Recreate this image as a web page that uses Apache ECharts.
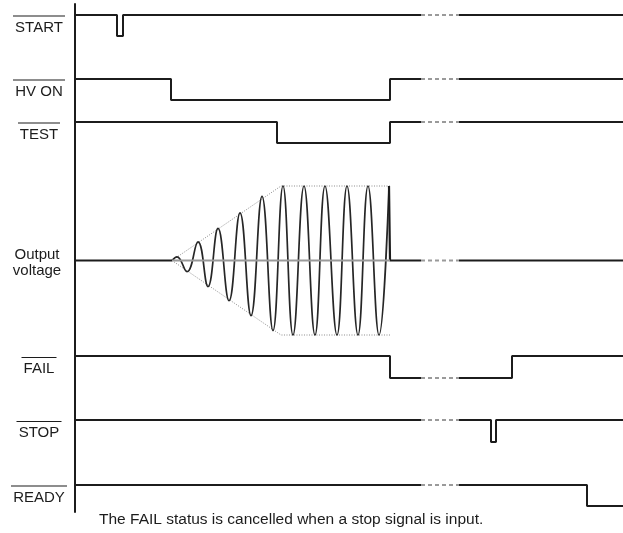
<!DOCTYPE html>
<html><head><meta charset="utf-8">
<script src="https://cdn.jsdelivr.net/npm/echarts@6/dist/echarts.min.js"></script>
<style>html,body{margin:0;padding:0;background:#fff}#c{width:623px;height:533px}</style>
</head><body><div id="c"></div>
<script>
// ---- data ----
const signalNames = ['START', 'HV ON', 'TEST', 'Output\nvoltage', 'FAIL', 'STOP', 'READY'];
const overlined = [true, true, true, false, true, true, true];
const timeEnd = 548;
const breakStart = 346, breakEnd = 384;
// times (same time units as the x axis) at which each active-low signal toggles; all begin high
const startEdges = [42, 48];
const hvOnEdges = [96, 315];
const testEdges = [202, 315];
const failEdges = [315, 437];
const stopEdges = [416, 421];
const readyEdges = [512];
// output voltage: start point and successive peaks/troughs of the test waveform (relative amplitude)
const waveTime  = [97, 102, 112, 123, 133, 143, 154, 165, 176, 187, 198, 208, 218, 229, 240, 250, 262, 272, 283, 293, 304, 314];
const waveValue = [0, 0.05, -0.15, 0.25, -0.35, 0.43, -0.54, 0.64, -0.74, 0.86, -0.94, 1, -1, 1, -1, 1, -1, 1, -1, 1, -1, 1];
const waveStart = 97, waveEnd = 315;
const envelopeTime = [97, 206, 315];
const envelopeValue = [0, 1, 1];
const caption = 'The FAIL status is cancelled when a stop signal is input.';

// ---- layout / style ----
const FONT = '"Liberation Sans", Arial, Helvetica, sans-serif';
const INK = '#1c1c1c';
const GREY = '#9a9a9a';
const rows = [
  {top: 15, height: 21}, {top: 79, height: 21}, {top: 122, height: 21},
  {top: 186, height: 149}, {top: 356, height: 22}, {top: 420, height: 22}, {top: 485, height: 21}
];
const edgesList = [startEdges, hvOnEdges, testEdges, null, failEdges, stopEdges, readyEdges];

function steps(edges) {
  const pts = [[0, 1]];
  let v = 1;
  edges.forEach(e => { pts.push([e, v]); v = 1 - v; pts.push([e, v]); });
  pts.push([timeEnd, v]);
  return pts;
}
function levelAt(pts, t) {
  let v = pts[0][1];
  pts.forEach(p => { if (p[0] <= t) v = p[1]; });
  return v;
}
function splitBreak(pts) {
  const a = levelAt(pts, breakStart), b = levelAt(pts, breakEnd);
  const before = pts.filter(p => p[0] <= breakStart); before.push([breakStart, a]);
  const after = [[breakEnd, b]].concat(pts.filter(p => p[0] >= breakEnd));
  return [before, [[breakStart, a], [breakEnd, b]], after];
}

const measure = document.createElement('canvas').getContext('2d');
measure.font = '15px ' + FONT;

const grids = [{left: 75, top: 4, width: 548, height: 508}];
const xAxes = [{gridIndex: 0, type: 'value', min: 0, max: 1, show: false}];
const yAxes = [{gridIndex: 0, type: 'value', min: 0, max: 1,
  axisLine: {show: true, lineStyle: {color: INK, width: 2}},
  axisTick: {show: false}, axisLabel: {show: false}, splitLine: {show: false}}];
const series = [];

function lineSeries(gi, data, style, extra) {
  return Object.assign({type: 'line', xAxisIndex: gi, yAxisIndex: gi, data: data,
    symbol: 'none', clip: false, silent: true, animation: false, lineStyle: style}, extra || {});
}

rows.forEach((r, i) => {
  const gi = i + 1;
  grids.push({left: 75, right: 0, top: r.top, height: r.height});
  xAxes.push({gridIndex: gi, type: 'value', min: 0, max: timeEnd, show: false});
  const isWave = edgesList[i] === null;
  const name = signalNames[i];
  let nameText, rich;
  const tStyle = {fontSize: 15, fontFamily: FONT, color: INK, lineHeight: 19, align: 'center'};
  if (overlined[i]) {
    const w = Math.round(measure.measureText(name).width) + 4;
    nameText = '{ol|}\n{t|' + name + '}';
    rich = {ol: {width: w, height: 1, lineHeight: 4, backgroundColor: INK, align: 'center'}, t: tStyle};
  } else {
    nameText = name.split('\n').map(s => '{v|' + s + '}').join('\n');
    rich = {v: Object.assign({}, tStyle, {lineHeight: 16}), t: tStyle};
  }
  yAxes.push({gridIndex: gi, type: 'value', min: isWave ? -1 : 0, max: 1,
    axisLine: {show: false}, axisTick: {show: false}, axisLabel: {show: false}, splitLine: {show: false},
    name: nameText, nameLocation: 'middle', nameRotate: 0, nameGap: isWave ? 38 : 36,
    nameTextStyle: {align: 'center', verticalAlign: 'middle', padding: isWave ? [5, 0, 0, 0] : 0, rich: rich}});
  const solid = {color: INK, width: 2};
  const dashed = {color: GREY, width: 2, type: [4, 3]};
  if (!isWave) {
    const parts = splitBreak(steps(edgesList[i]));
    series.push(lineSeries(gi, parts[0], solid));
    series.push(lineSeries(gi, parts[1], dashed));
    series.push(lineSeries(gi, parts[2], solid));
  } else {
    // baseline before the test
    series.push(lineSeries(gi, [[0, 0], [waveStart, 0]], solid));
    // envelope (dotted)
    const envUp = envelopeTime.map((t, k) => [t, envelopeValue[k]]);
    const envDn = envelopeTime.map((t, k) => [t, -envelopeValue[k]]);
    const envStyle = {color: '#8c8c8c', width: 1, type: [1, 1.5]};
    series.push(lineSeries(gi, envUp, envStyle));
    series.push(lineSeries(gi, envDn, envStyle));
    // waveform
    series.push(lineSeries(gi, waveTime.map((t, k) => [t, waveValue[k]]), {color: '#262626', width: 1.7}, {smooth: 0.45}));
    // grey centre line
    series.push(lineSeries(gi, [[waveStart, 0], [waveEnd, 0]], {color: GREY, width: 2}, {z: 5}));
    // cut-off edge and baseline after
    const tail = [[waveTime[waveTime.length - 1], 1], [waveEnd, 1], [waveEnd, 0], [timeEnd, 0]];
    const parts = splitBreak(tail);
    series.push(lineSeries(gi, parts[0], {color: INK, width: 2.2}));
    series.push(lineSeries(gi, parts[1], dashed));
    series.push(lineSeries(gi, parts[2], solid));
  }
});

const chart = echarts.init(document.getElementById('c'), null, {renderer: 'canvas'});
chart.setOption({
  animation: false,
  backgroundColor: '#ffffff',
  title: {text: caption, left: 99, top: 511, padding: 0,
    textStyle: {fontSize: 15.5, fontWeight: 'normal', fontFamily: FONT, color: INK, lineHeight: 18}},
  grid: grids, xAxis: xAxes, yAxis: yAxes, series: series
});
</script></body></html>
